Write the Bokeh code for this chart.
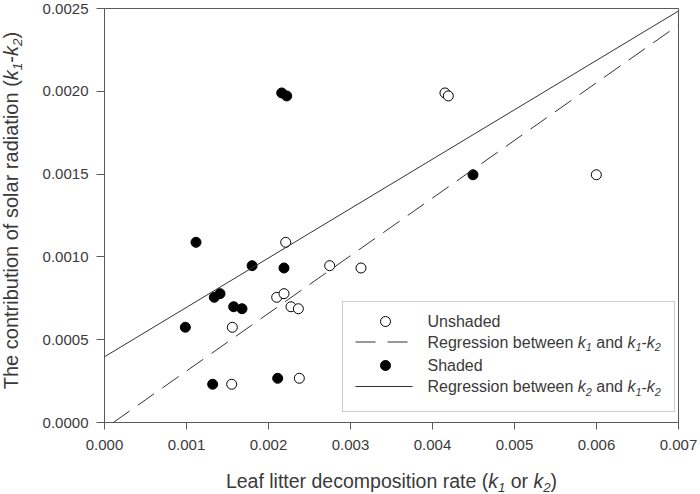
import math
from bokeh.plotting import figure
from bokeh.layouts import column, row
from bokeh.models import Slope, Label, FixedTicker, PrintfTickFormatter, Range1d, BoxAnnotation
from bokeh.embed import file_html
from bokeh.resources import INLINE

# ---------------- data ----------------
contribution = [0.001088, 0.000947, 0.000933, 0.000756, 0.000778, 0.000699, 0.000687,
                0.000575, 0.000231, 0.000267, 0.001990, 0.001972, 0.001496]
shaded_k2 = [0.001116, 0.001800, 0.002189, 0.001339, 0.001409, 0.001575, 0.001677,
             0.000986, 0.001319, 0.002112, 0.002161, 0.002222, 0.004494]
unshaded_k1 = [0.002210, 0.002746, 0.003128, 0.002100, 0.002189, 0.002274, 0.002364,
               0.001559, 0.001551, 0.002376, 0.004152, 0.004193, 0.005998]

# regression lines (slope, intercept)
reg_k1_slope, reg_k1_intercept = 0.3482, -0.0000373
reg_k2_slope, reg_k2_intercept = 0.2983, 0.000397

x_ticks = [0.000, 0.001, 0.002, 0.003, 0.004, 0.005, 0.006, 0.007]
y_ticks = [0.0000, 0.0005, 0.0010, 0.0015, 0.0020, 0.0025]
XMAX, YMAX = 0.007, 0.0025

# ---------------- layout ----------------
TOTAL_W, TOTAL_H = 700, 494
YLAB_W = 30          # strip for the y title
XLAB_H = 30          # strip for the x title
MAIN_W, MAIN_H = TOTAL_W - YLAB_W, TOTAL_H - XLAB_H
L, R, T, B = 104, 22, 8, 42        # frame borders (L in full-canvas coordinates)
FW, FH = TOTAL_W - L - R, MAIN_H - T - B
FONT = "Liberation Sans"
TXT = "#3a3a3a"
AX = "#5a5a5a"
MID = 0.35           # text-box middle above the baseline, in em


def dx(cx):
    return (cx - L) / FW * XMAX


def dy(cy):
    return (T + FH - cy) / FH * YMAX


# Arial / Liberation Sans advance widths (1/1000 em)
WID = {' ': 278, '(': 333, ')': 333, '-': 333, '1': 556, '2': 556,
       'a': 556, 'b': 556, 'c': 500, 'd': 556, 'e': 556, 'f': 278, 'g': 556, 'h': 556,
       'i': 222, 'k': 500, 'l': 222, 'm': 833, 'n': 556, 'o': 556, 'p': 556, 'r': 333,
       's': 500, 't': 278, 'u': 556, 'w': 722, 'L': 556, 'T': 611, 'U': 722, 'S': 667, 'R': 722}
SUB, SUBOFF = 0.68, 0.22


def tw(s, size):
    return sum(WID.get(c, 556) for c in s) * size / 1000.0


def runs_width(runs, size):
    return sum(tw(t, size * (SUB if sub else 1)) for t, st, sub in runs)


def k_sub(n):
    return [("k", "italic", False), (n, "italic", True)]


def place(fig, runs, cx, cy, size, tx, ty, rotate=False):
    """Lay out styled runs from a baseline start (cx, cy) in canvas pixels.
    Every run is centred on its own box, so rotation cannot move it."""
    pos = 0.0
    for text, style, sub in runs:
        fs = size * (SUB if sub else 1)
        off = (size * SUBOFF if sub else 0.0) - MID * fs
        lead = len(text) - len(text.lstrip(" "))
        body = text.strip(" ")
        c = pos + tw(" " * lead, fs) + tw(body, fs) / 2
        if body:
            if rotate:
                x, y = cx + off, cy - c
            else:
                x, y = cx + c, cy + off
            fig.add_layout(Label(x=tx(x), y=ty(y), text=body, text_font=FONT,
                                 text_font_size=f"{fs:.2f}px", text_font_style=style,
                                 text_color=TXT, text_align="center", text_baseline="middle",
                                 angle=(math.pi / 2 if rotate else 0)))
        pos += tw(text, fs)


def blank_fig(w, h, top=0, bottom=0):
    # frame spans canvas rows top .. h-bottom; data y = h - canvas y
    f = figure(width=w, height=h, output_backend="svg", toolbar_location=None, title=None,
               x_range=Range1d(0, w), y_range=Range1d(bottom, h - top),
               x_axis_type=None, y_axis_type=None,
               min_border_left=0, min_border_right=0, min_border_top=top, min_border_bottom=bottom)
    f.outline_line_color = None
    f.background_fill_color = "white"
    f.border_fill_color = "white"
    return f


# ---------------- main plot ----------------
p = figure(width=MAIN_W, height=MAIN_H, output_backend="svg", toolbar_location=None, title=None,
           x_range=Range1d(0, XMAX), y_range=Range1d(0, YMAX),
           min_border_left=L - YLAB_W, min_border_right=R, min_border_top=T, min_border_bottom=B)
p.grid.visible = False
p.outline_line_color = AX
p.outline_line_width = 1
p.background_fill_color = "white"
p.border_fill_color = "white"

for ax in (p.xaxis[0], p.yaxis[0]):
    ax.axis_line_color = AX
    ax.major_tick_line_color = AX
    ax.major_tick_in = 0
    ax.minor_tick_line_color = None
    ax.major_label_text_font = FONT
    ax.major_label_text_font_size = "15px"
    ax.major_label_text_color = TXT
p.xaxis.major_tick_out = 7
p.yaxis.major_tick_out = 8
p.xaxis.major_label_standoff = 10
p.yaxis.major_label_standoff = 8
p.xaxis.ticker = FixedTicker(ticks=x_ticks)
p.yaxis.ticker = FixedTicker(ticks=y_ticks)
p.xaxis.formatter = PrintfTickFormatter(format="%.3f")
p.yaxis.formatter = PrintfTickFormatter(format="%.4f")

# regression lines
p.add_layout(Slope(gradient=reg_k1_slope, y_intercept=reg_k1_intercept,
                   line_color="#333333", line_width=1, line_dash="20 10"))
p.add_layout(Slope(gradient=reg_k2_slope, y_intercept=reg_k2_intercept,
                   line_color="#333333", line_width=1))

# points
p.scatter(unshaded_k1, contribution, marker="circle", size=10,
          fill_color="white", line_color="black", line_width=1)
p.scatter(shaded_k2, contribution, marker="circle", size=10,
          fill_color="black", line_color="black", line_width=1)

# legend (drawn by hand so that k, subscripts can be styled)
LS = 16
bl, br, bt, bb = 342, 674, 301, 411
p.add_layout(BoxAnnotation(left=dx(bl), right=dx(br), top=dy(bt), bottom=dy(bb),
                           fill_color=None, line_color=AX, line_width=1))
rows = [bt + 20, bt + 40.5, bt + 64, bt + 85]
p.scatter([dx(bl + 43)], [dy(rows[0])], marker="circle", size=10,
          fill_color="white", line_color="black", line_width=1)
p.line([dx(bl + 13), dx(bl + 65)], [dy(rows[1])] * 2, line_color="#333333",
       line_width=1, line_dash="20 12")
p.scatter([dx(bl + 43)], [dy(rows[2])], marker="circle", size=10,
          fill_color="black", line_color="black", line_width=1)
p.line([dx(bl + 13), dx(bl + 70)], [dy(rows[3])] * 2, line_color="#333333", line_width=1)

leg_texts = [
    [("Unshaded", "normal", False)],
    [("Regression between ", "normal", False)] + k_sub("1") + [(" and ", "normal", False)]
    + k_sub("1") + [("-", "normal", False)] + k_sub("2"),
    [("Shaded", "normal", False)],
    [("Regression between ", "normal", False)] + k_sub("2") + [(" and ", "normal", False)]
    + k_sub("1") + [("-", "normal", False)] + k_sub("2"),
]
for r, runs in zip(rows, leg_texts):
    place(p, runs, bl + 85, r + MID * LS, LS, dx, dy)

# ---------------- axis titles ----------------
AXS = 19.5
yfig = blank_fig(YLAB_W, MAIN_H, top=T, bottom=B)   # same frame rows as the main plot
ylab = [("The contribution of solar radiation (", "normal", False)] + k_sub("1") + \
       [("-", "normal", False)] + k_sub("2") + [(")", "normal", False)]
place(yfig, ylab, 17.5, 210 + runs_width(ylab, 20) / 2, 20,
      lambda cx: cx, lambda cy: MAIN_H - cy, rotate=True)

xfig = blank_fig(TOTAL_W, XLAB_H)
xlab = [("Leaf litter decomposition rate (", "normal", False)] + k_sub("1") + \
       [(" or ", "normal", False)] + k_sub("2") + [(")", "normal", False)]
place(xfig, xlab, L + FW / 2 - runs_width(xlab, AXS) / 2, 487, AXS,
      lambda cx: cx, lambda cy: TOTAL_H - cy)

layout = column(row(yfig, p, spacing=0), xfig, spacing=0)
open("out.html", "w").write(file_html(layout, INLINE))
